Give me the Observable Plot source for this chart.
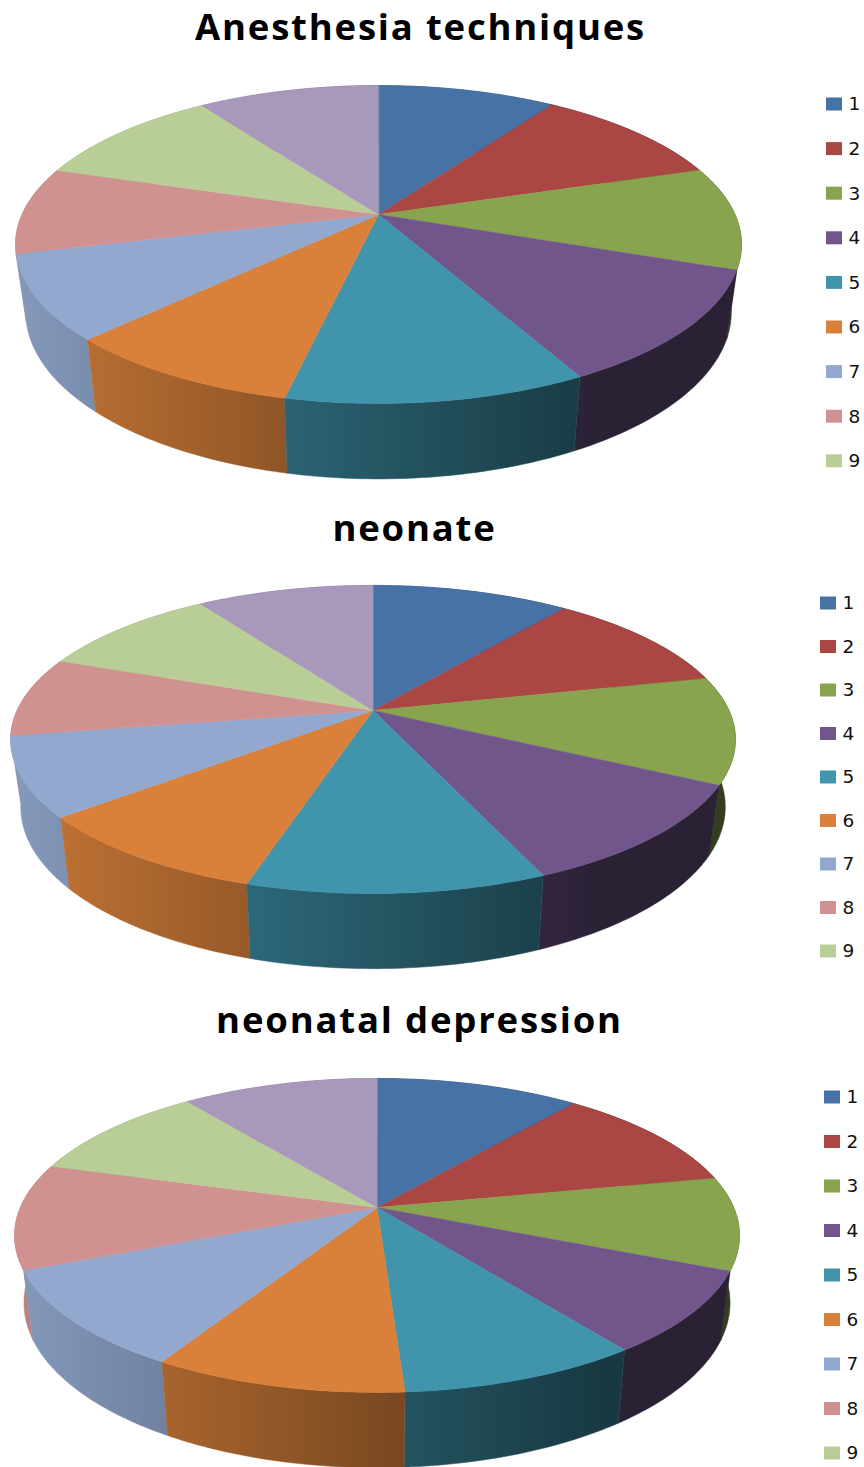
<!DOCTYPE html>
<html>
<head>
<meta charset="utf-8">
<script src="https://cdn.jsdelivr.net/npm/d3@7"></script>
<script src="https://cdn.jsdelivr.net/npm/@observablehq/plot@0.6"></script>
<style>
  html, body { margin: 0; padding: 0; background: #fff; overflow: hidden; }
  svg { display: block; }
  /* Chart titles are set a little wider than the font's natural spacing. */
  svg [font-family="Open Sans"] { letter-spacing: 1.8px; }
</style>
</head>
<body>
<div id="chart"></div>
<script>
// Share of each pie per slice, in degrees of arc, clockwise from twelve o'clock.
const anesthesiaShares = [34.2, 38.0, 37.7, 42.0, 40.5, 32.6, 30.9, 31.8, 37.4, 34.9];
const neonateShares = [38.0, 39.0, 40.4, 39.3, 40.2, 33.7, 30.0, 30.1, 35.3, 34.0];
const depressionShares = [38.9, 39.6, 34.5, 30.5, 32.8, 34.4, 36.6, 39.3, 36.1, 37.3];

const chartTitles = ["Anesthesia techniques", "neonate", "neonatal depression"];
const legendLabels = ["1", "2", "3", "4", "5", "6", "7", "8", "9"];
const sliceColors = ["#4672a6", "#aa4643", "#89a44e", "#71568b", "#4095ad", "#d9813b", "#92a8cf", "#d09291", "#b9cd96", "#a898bc"];

// Projection of each disc: apex position, radii, perspective strength, and how the lower rim differs.
const layouts = [
  {cx: 378, cy: 214, a: 356.5, b: 153.3, k: 0.1887, drop: 66, wallX: 0.972, wallY: 1.05,
   titleX: 420, titleY: 27.5, legendX: 826, legendY: 104, legendStep: 44.6},
  {cx: 372.5, cy: 710, a: 356, b: 148.6, k: 0.188, drop: 66, wallX: 0.972, wallY: 1.05,
   titleX: 414, titleY: 528.5, legendX: 820, legendY: 603, legendStep: 43.5},
  {cx: 376.5, cy: 1207, a: 356.7, b: 152, k: 0.178, drop: 66, wallX: 0.974, wallY: 1.05,
   titleX: 419, titleY: 1020.5, legendX: 824, legendY: 1097, legendStep: 44.5}
];
const allShares = [anesthesiaShares, neonateShares, depressionShares];

const rad = Math.PI / 180;

// Rim point at a clockwise angle on the top face (wall = false) or on the lower rim.
function rim(g, deg, wall) {
  const u = Math.sin(deg * rad), v = -Math.cos(deg * rad);
  const w = 1 - g.k * v;
  const sx = wall ? g.wallX : 1, sy = wall ? g.wallY : 1, dy = wall ? g.drop : 0;
  return {x: g.cx + sx * g.a * u / w, y: g.cy + dy + sy * g.b * v / w};
}

function arc(g, from, to, wall) {
  const n = Math.max(2, Math.ceil(Math.abs(to - from)));
  return d3.range(n + 1).map((i) => rim(g, from + (to - from) * i / n, wall));
}

// Walls darken from left to right across the page.
function shade(hex, f) {
  const c = d3.rgb(hex);
  return d3.rgb(c.r * f, c.g * f, c.b * f).formatHex();
}
const defs = d3.create("svg:defs");
sliceColors.forEach((color, i) => {
  const grad = defs.append("linearGradient")
    .attr("id", `wall-${i}`)
    .attr("gradientUnits", "userSpaceOnUse")
    .attr("x1", 0).attr("x2", 600).attr("y1", 0).attr("y2", 0);
  grad.append("stop").attr("offset", 0).attr("stop-color", shade(color, 0.92));
  grad.append("stop").attr("offset", 1).attr("stop-color", shade(color, 0.38));
});

const marks = [() => defs.node()];

allShares.forEach((shares, p) => {
  const g = layouts[p];
  const bounds = d3.cumsum(shares);
  const starts = shares.map((_, i) => (i ? bounds[i - 1] : 0));

  // Side walls go back to front, then the top face covers whatever lies behind it.
  const depth = (i) => -Math.cos((starts[i] + bounds[i]) / 2 * rad);
  d3.range(shares.length).sort((m, n) => depth(m) - depth(n)).forEach((i) => {
    const wall = [...arc(g, starts[i], bounds[i], false), ...arc(g, bounds[i], starts[i], true)];
    marks.push(Plot.line(wall, {x: "x", y: "y", curve: "linear-closed", fill: `url(#wall-${i})`, stroke: `url(#wall-${i})`, strokeWidth: 0.5}));
  });
  shares.forEach((_, i) => {
    const wedge = [{x: g.cx, y: g.cy}, ...arc(g, starts[i], bounds[i], false)];
    marks.push(Plot.line(wedge, {x: "x", y: "y", curve: "linear-closed", fill: sliceColors[i], stroke: sliceColors[i], strokeWidth: 0.5}));
  });

  marks.push(Plot.text([chartTitles[p]], {
    x: () => g.titleX, y: () => g.titleY, text: (d) => d,
    fontFamily: "Open Sans", fontWeight: 700, fontSize: 36.5, fill: "#000"
  }));

  const legend = legendLabels.map((label, i) => ({label, i, y: g.legendY + i * g.legendStep}));
  marks.push(Plot.rect(legend, {
    x1: () => g.legendX, x2: () => g.legendX + 16,
    y1: (d) => d.y - 6.5, y2: (d) => d.y + 6.5,
    fill: (d) => sliceColors[d.i]
  }));
  marks.push(Plot.text(legend, {
    x: () => g.legendX + 22, y: "y", text: "label", textAnchor: "start",
    fontFamily: "DejaVu Sans", fontSize: 18.5, fill: "#111"
  }));
});

const chart = Plot.plot({
  width: 864,
  height: 1467,
  margin: 0,
  x: {domain: [0, 864], range: [0, 864], axis: null},
  y: {domain: [0, 1467], range: [0, 1467], axis: null},
  color: {type: "identity"},
  marks
});
document.getElementById("chart").append(chart);
</script>
</body>
</html>
